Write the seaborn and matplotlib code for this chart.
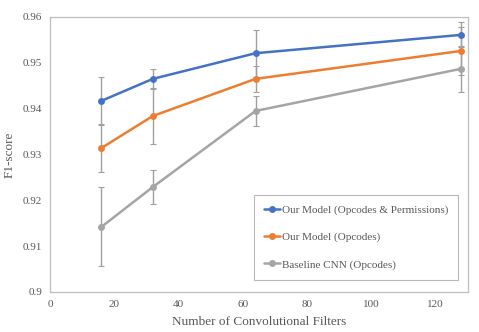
import numpy as np
import pandas as pd
import seaborn as sns
import matplotlib
matplotlib.use("Agg")
import matplotlib.pyplot as plt

filters = [16, 32, 64, 128]
series_names = ["Our Model (Opcodes & Permissions)", "Our Model (Opcodes)", "Baseline CNN (Opcodes)"]
f1_perm = [0.9417, 0.9465, 0.9521, 0.9561]
f1_opc = [0.9314, 0.9384, 0.9465, 0.9526]
f1_base = [0.9142, 0.9229, 0.9395, 0.9487]
err_perm = [0.0052, 0.0022, 0.0051, 0.0027]
err_opc = [0.0053, 0.0062, 0.0028, 0.0053]
err_base = [0.0086, 0.0037, 0.0032, 0.0050]
x_ticks = [0, 20, 40, 60, 80, 100, 120]
y_ticks = [0.90, 0.91, 0.92, 0.93, 0.94, 0.95, 0.96]
y_tick_labels = ["0.9", "0.91", "0.92", "0.93", "0.94", "0.95", "0.96"]

colors = ["#4472C4", "#ED7D31", "#A5A5A5"]

sns.set_style("white")
plt.rcParams['font.family'] = ['Liberation Serif', 'DejaVu Serif']

df = pd.DataFrame({
    "filters": filters * 3,
    "f1": f1_perm + f1_opc + f1_base,
    "err": err_perm + err_opc + err_base,
    "series": sum([[n] * len(filters) for n in series_names], []),
})

fig = plt.figure(figsize=(4.79, 3.32), dpi=100)
ax = fig.add_axes([0.1044, 0.1205, 0.8716, 0.8283])

# error bars (grey, behind lines)
for name in series_names:
    sub = df[df.series == name]
    ax.errorbar(sub.filters, sub.f1, yerr=sub.err, fmt='none', ecolor="#A0A0A0",
                elinewidth=1.0, capsize=2, capthick=0.8, zorder=1)

sns.lineplot(data=df, x="filters", y="f1", hue="series", hue_order=series_names,
             palette=colors, marker="o", markersize=5, markeredgewidth=0,
             linewidth=1.8, ax=ax, zorder=3, legend=True)

ax.set_xlim(0, 130)
ax.set_ylim(0.9, 0.96)
ax.set_xticks(x_ticks)
ax.set_yticks(y_ticks)
ax.set_yticklabels(y_tick_labels)
ax.tick_params(axis='x', direction='in', length=2, width=0.6, color="#BFBFBF",
               labelsize=8, labelcolor="#595959", pad=6)
ax.tick_params(axis='y', length=0, labelsize=8, labelcolor="#595959", pad=5.5)
for s in ax.spines.values():
    s.set_color("#BFBFBF")
    s.set_linewidth(0.9)
ax.set_xlabel("Number of Convolutional Filters", fontsize=9.5, color="#595959", labelpad=5)
ax.set_ylabel("F1-score", fontsize=9.5, color="#595959", labelpad=5)

handles, labels = ax.get_legend_handles_labels()
leg = ax.legend(handles, labels, loc="lower right", bbox_to_anchor=(0.977, 0.045),
                fontsize=8, frameon=True, fancybox=False, handlelength=1.45,
                handletextpad=0.1, labelspacing=1.55, borderpad=0.9, borderaxespad=0,
                labelcolor="#595959")
leg.get_frame().set_edgecolor("#A6A6A6")
leg.get_frame().set_linewidth(0.8)

fig.savefig("out.png", dpi=100)
